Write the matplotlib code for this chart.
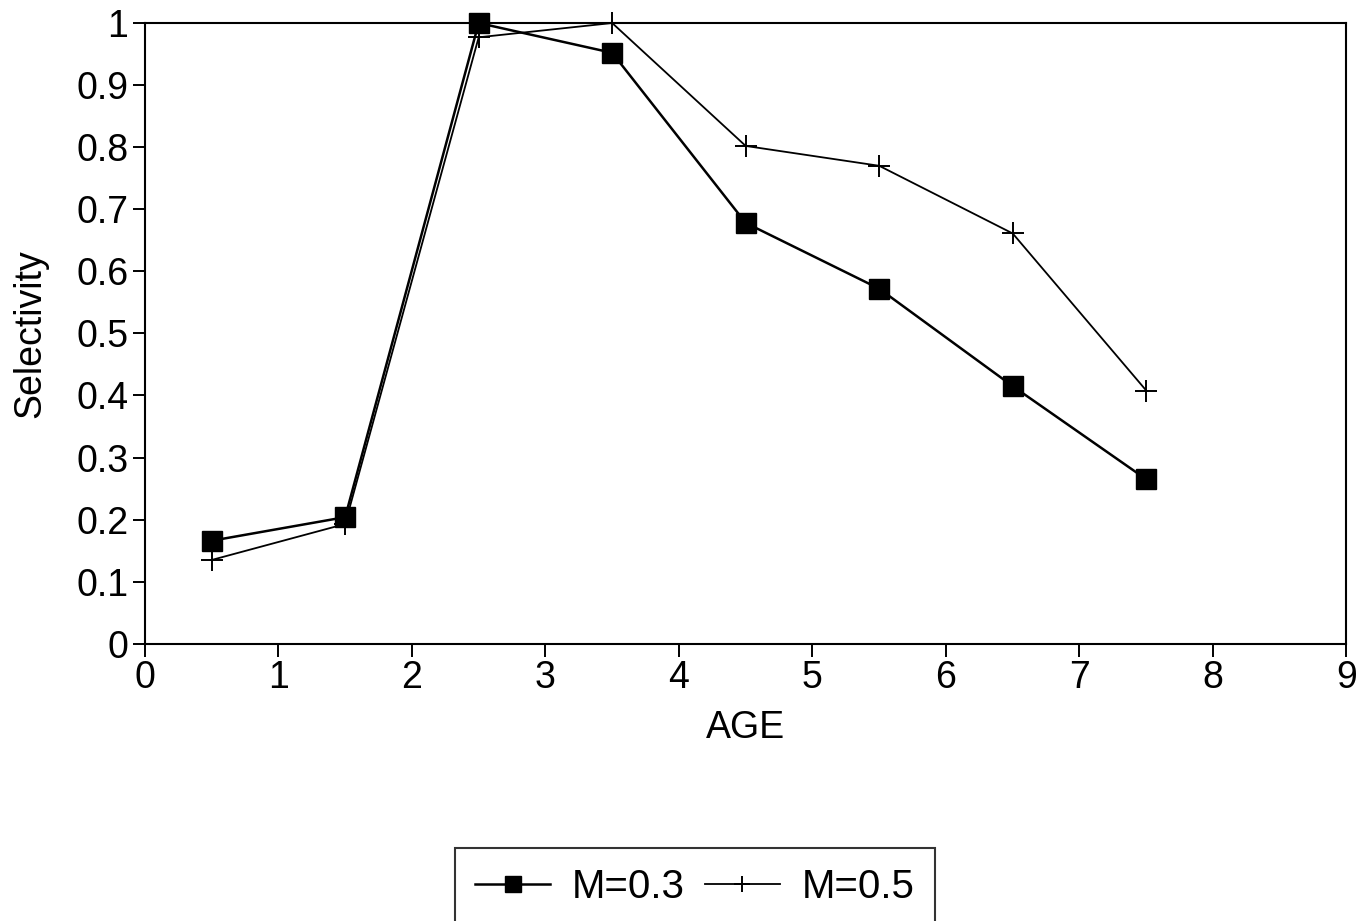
import numpy as np
from matplotlib import pyplot as plt

plt.rcParams['font.family'] = ['Liberation Sans', 'DejaVu Sans']

age = [0.5, 1.5, 2.5, 3.5, 4.5, 5.5, 6.5, 7.5]
sel_m03 = [0.166, 0.204, 1.0, 0.952, 0.678, 0.572, 0.415, 0.265]
sel_m05 = [0.135, 0.193, 0.977, 1.0, 0.802, 0.770, 0.661, 0.408]
xticks = list(range(10))
yticks = [0, 0.1, 0.2, 0.3, 0.4, 0.5, 0.6, 0.7, 0.8, 0.9, 1]
ylabels = ['0', '0.1', '0.2', '0.3', '0.4', '0.5', '0.6', '0.7', '0.8', '0.9', '1']

fig = plt.figure(figsize=(13.67, 9.21), dpi=100)
ax = fig.add_axes([0.106, 0.301, 0.879, 0.674])

ax.plot(age, sel_m03, color='black', lw=1.8, marker='s', markersize=15,
        label='M=0.3', clip_on=False, zorder=3)
ax.plot(age, sel_m05, color='black', lw=1.3, marker='+', markersize=16,
        markeredgewidth=1.4, label='M=0.5', clip_on=False, zorder=3)

ax.set_xlim(0, 9)
ax.set_ylim(0, 1)
ax.set_xticks(xticks)
ax.set_yticks(yticks)
ax.set_yticklabels(ylabels)
ax.tick_params(labelsize=27, direction='out', length=9, width=1.4, pad=3)
for s in ax.spines.values():
    s.set_linewidth(1.5)

ax.set_xlabel('AGE', fontsize=27, labelpad=10)
ax.set_ylabel('Selectivity', fontsize=27, labelpad=20)

leg = fig.legend(loc='upper left', bbox_to_anchor=(0.333, 0.079), ncol=2,
                 fontsize=29, frameon=True, fancybox=False, edgecolor='black',
                 handlelength=1.85, columnspacing=0.5, handletextpad=0.55,
                 borderpad=0.5, borderaxespad=0, markerscale=0.75)
leg.get_frame().set_linewidth(1.5)

fig.savefig('out.png', dpi=100)
